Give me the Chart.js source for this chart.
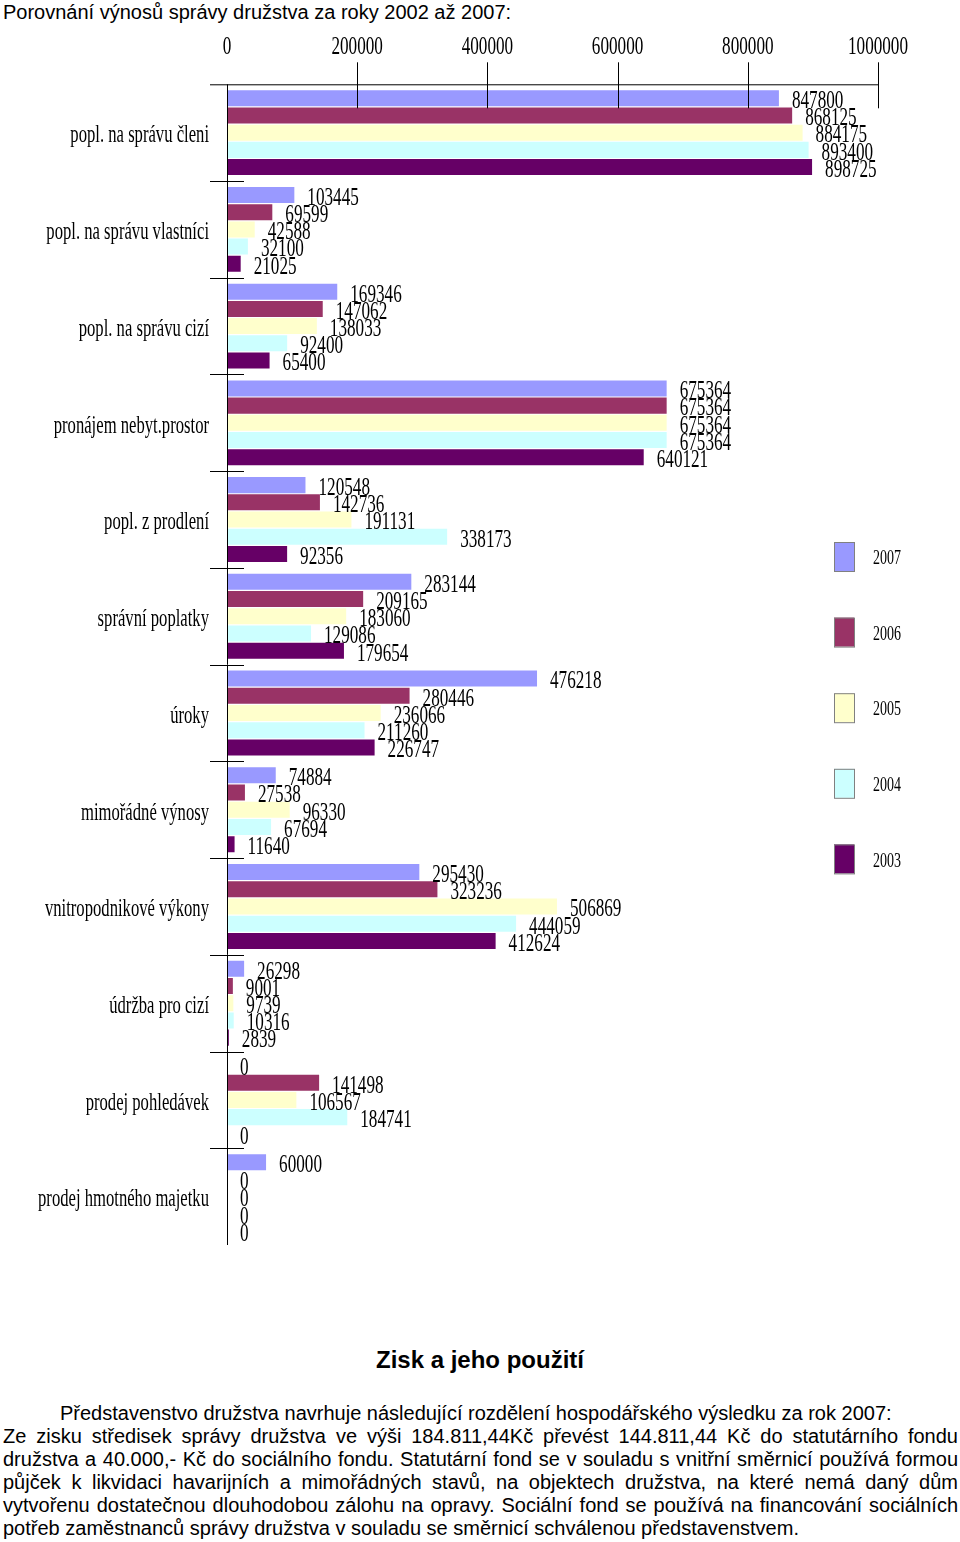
<!DOCTYPE html>
<html lang="cs">
<head>
<meta charset="utf-8">
<script src="https://cdn.jsdelivr.net/npm/chart.js@4.4.1/dist/chart.umd.min.js"></script>
<style>
  body { margin: 0; background: #fff; width: 960px; height: 1542px; position: relative; font-family: "Liberation Sans", Arial, sans-serif; color: #000; }
  #title { position: absolute; left: 3px; top: 1px; font-size: 20px; white-space: nowrap; }
  #chartBox { position: absolute; left: 0; top: 25px; width: 960px; height: 1250px; }
  #heading { position: absolute; left: 0; width: 960px; top: 1346px; text-align: center; font-weight: bold; font-size: 24px; }
  #text { position: absolute; left: 3px; width: 955px; top: 1402px; font-size: 20px; line-height: 23px; }
  #text p { margin: 0; text-align: justify; }
  #text p.first { text-indent: 57px; }
</style>
</head>
<body>
<div id="title">Porovnání výnosů správy družstva za roky 2002 až 2007:</div>
<div id="chartBox"><canvas id="chart" width="960" height="1250"></canvas></div>
<div id="heading">Zisk a jeho použití</div>
<div id="text">
  <p class="first">Představenstvo družstva navrhuje následující rozdělení hospodářského výsledku za rok 2007:</p>
  <p>Ze zisku středisek správy družstva ve výši 184.811,44Kč převést 144.811,44 Kč do statutárního fondu družstva a 40.000,- Kč do sociálního fondu. Statutární fond se v souladu s vnitřní směrnicí používá formou půjček k likvidaci havarijních a mimořádných stavů, na objektech družstva, na které nemá daný dům vytvořenu dostatečnou dlouhodobou zálohu na opravy. Sociální fond se používá na financování sociálních potřeb zaměstnanců správy družstva v souladu se směrnicí schválenou představenstvem.</p>
</div>
<script>
document.addEventListener("DOMContentLoaded", () => {
    // Kategorie výnosů
    const categories = [
        'popl. na správu členi', 'popl. na správu vlastníci', 'popl. na správu cizí',
        'pronájem nebyt.prostor', 'popl. z prodlení', 'správní poplatky', 'úroky',
        'mimořádné výnosy', 'vnitropodnikové výkony', 'údržba pro cizí',
        'prodej pohledávek', 'prodej hmotného majetku'
    ];

    // Hodnoty po letech
    const years = ['2007', '2006', '2005', '2004', '2003'];
    const v2007 = [847800, 103445, 169346, 675364, 120548, 283144, 476218, 74884, 295430, 26298, 0, 60000];
    const v2006 = [868125, 69599, 147062, 675364, 142736, 209165, 280446, 27538, 323236, 9001, 141498, 0];
    const v2005 = [884175, 42588, 138033, 675364, 191131, 183060, 236066, 96330, 506869, 9739, 106567, 0];
    const v2004 = [893400, 32100, 92400, 675364, 338173, 129086, 211260, 67694, 444059, 10316, 184741, 0];
    const v2003 = [898725, 21025, 65400, 640121, 92356, 179654, 226747, 11640, 412624, 2839, 0, 0];
    const colors = ['#9999FF', '#993366', '#FFFFCC', '#CCFFFF', '#660066'];

    // Popisky osy x
    const xTicks = [0, 200000, 400000, 600000, 800000, 1000000];

    // Úzké patkové písmo (zúžené přes scale)
    function narrowText(ctx, text, x, y, size, sx, align) {
        ctx.save();
        ctx.font = size + 'px "Liberation Serif", "Times New Roman", serif';
        ctx.textBaseline = 'middle';
        ctx.textAlign = 'left';
        ctx.fillStyle = '#000';
        const w = ctx.measureText(text).width * sx;
        let left = x;
        if (align === 'right') left = x - w;
        if (align === 'center') left = x - w / 2;
        ctx.translate(left, y);
        ctx.scale(sx, 1);
        ctx.fillText(text, 0, 0);
        ctx.restore();
    }

    const decor = {
        id: 'decor',
        afterDatasetsDraw(chart) {
            const ctx = chart.ctx;
            const xs = chart.scales.x;
            const ys = chart.scales.y;
            const area = chart.chartArea;
            const step = ys.getPixelForValue(1) - ys.getPixelForValue(0);

            ctx.save();
            ctx.strokeStyle = '#000';
            ctx.lineWidth = 1;

            // horní linka a svislá osa
            ctx.beginPath();
            ctx.moveTo(area.left - 17, area.top + 0.5);
            ctx.lineTo(area.right, area.top + 0.5);
            ctx.moveTo(area.left + 0.5, area.top);
            ctx.lineTo(area.left + 0.5, area.bottom);
            ctx.stroke();

            // značky stupnice
            xTicks.forEach(v => {
                const px = Math.round(xs.getPixelForValue(v)) + 0.5;
                if (v > 0) {
                    ctx.beginPath();
                    ctx.moveTo(px, area.top - 22);
                    ctx.lineTo(px, area.top + 24);
                    ctx.stroke();
                }
                narrowText(ctx, String(v), xs.getPixelForValue(v), area.top - 37, 26, 0.66, 'center');
            });

            // oddělovače kategorií a popisky
            categories.forEach((c, i) => {
                const cy = ys.getPixelForValue(i);
                if (i > 0) {
                    const by = Math.round(cy - step / 2) + 0.5;
                    ctx.beginPath();
                    ctx.moveTo(area.left - 17, by);
                    ctx.lineTo(area.left + 17, by);
                    ctx.stroke();
                }
                narrowText(ctx, c, area.left - 18, cy + 3, 26, 0.64, 'right');
            });
            ctx.restore();

            // hodnoty u sloupců
            chart.data.datasets.forEach((ds, di) => {
                const meta = chart.getDatasetMeta(di);
                meta.data.forEach((bar, i) => {
                    narrowText(ctx, String(ds.data[i]), bar.x + 13, bar.y + 3, 26, 0.66, 'left');
                });
            });

            // legenda
            const lx = 834, ly0 = 517, lstep = 75.6;
            chart.data.datasets.forEach((ds, di) => {
                const y = ly0 + di * lstep;
                ctx.save();
                ctx.fillStyle = ds.backgroundColor;
                ctx.fillRect(lx, y, 20, 29);
                ctx.strokeStyle = '#808080';
                ctx.lineWidth = 1;
                ctx.strokeRect(lx + 0.5, y + 0.5, 20, 29);
                ctx.restore();
                narrowText(ctx, ds.label, lx + 39, y + 17, 20, 0.7, 'left');
            });
        }
    };

    const series = [v2007, v2006, v2005, v2004, v2003];

    new Chart(document.getElementById('chart').getContext('2d'), {
        type: 'bar',
        data: {
            labels: categories,
            datasets: series.map((data, i) => ({
                label: years[i],
                data: data,
                backgroundColor: colors[i],
                borderWidth: 0,
                categoryPercentage: 0.89,
                barPercentage: 0.93
            }))
        },
        options: {
            indexAxis: 'y',
            responsive: false,
            animation: false,
            devicePixelRatio: 1,
            layout: { padding: { top: 59.3, left: 227, right: 82, bottom: 30 } },
            plugins: {
                legend: { display: false },
                tooltip: { enabled: false }
            },
            scales: {
                x: { type: 'linear', min: 0, max: 1000000, display: false },
                y: { display: false }
            }
        },
        plugins: [decor]
    });
});
</script>
</body>
</html>
